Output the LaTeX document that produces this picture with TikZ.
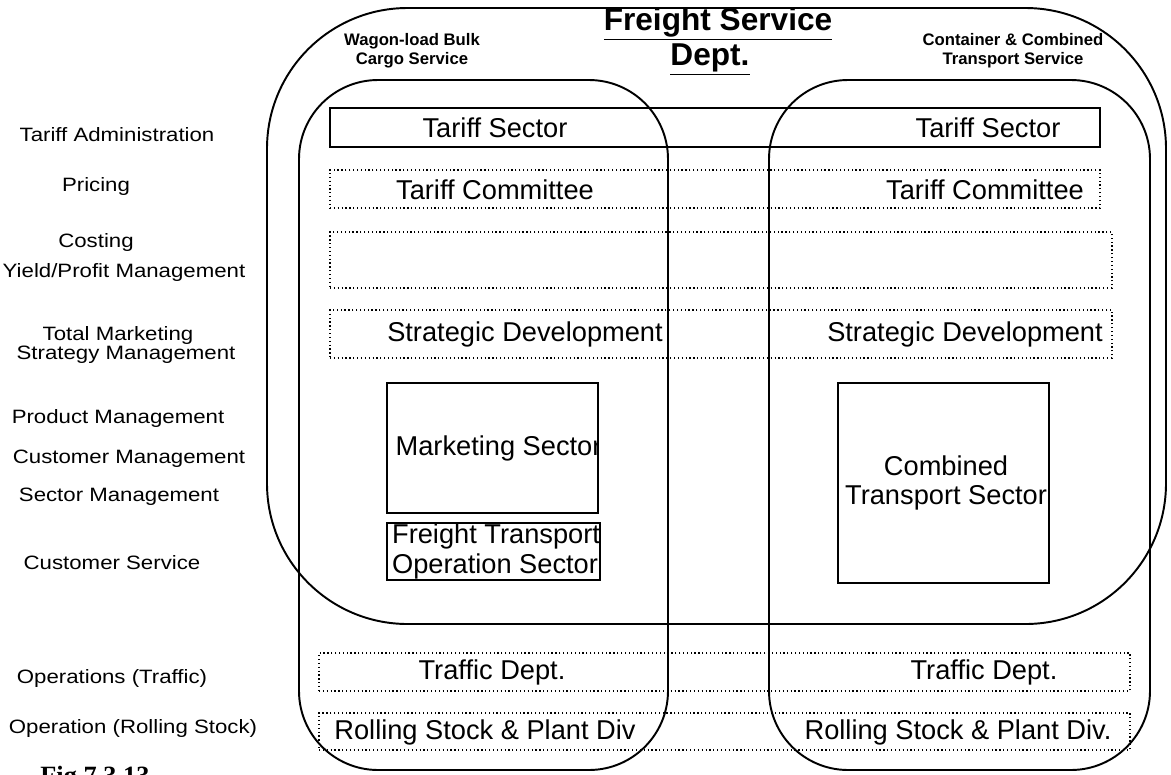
\documentclass[tikz,border=0pt]{standalone}
\usepackage{fontspec}
\setmainfont{Liberation Sans}
\newfontfamily\widefont[FakeStretch=1.15]{Liberation Sans}
\newfontfamily\figfont{Liberation Serif}
\usetikzlibrary{positioning}

\begin{document}
\begin{tikzpicture}[x=0.02cm, y=-0.02cm,
  region/.style={draw, line width=1.1pt, rounded corners=#1, inner sep=0pt},
  sbox/.style={draw, line width=0.9pt, inner sep=0pt},
  dbox/.style={draw, line width=0.7pt, dash pattern=on 0.7pt off 1.5pt, inner sep=0pt},
  boxtxt/.style={font=\fontsize{15.5}{17}\selectfont, inner sep=0pt, align=center},
  lbl/.style={font=\widefont\fontsize{11}{12}\selectfont, inner sep=0pt},
  svc/.style={font=\bfseries\fontsize{9.5}{11}\selectfont, align=center, inner sep=0pt},
  ttl/.style={font=\bfseries\fontsize{18}{20}\selectfont, inner sep=0pt, anchor=base}]
  \def\pxu{0.02cm}   % one pixel of the page
  \useasboundingbox (0,0) rectangle (1171,775);

  % the three service regions
  \node (fsdept) [region=80pt, minimum width=899*\pxu, minimum height=616*\pxu] at (716.5,316) {};
  \node (wagon)  [region=45pt, minimum width=369*\pxu, minimum height=690*\pxu] at (483.5,425) {};
  \node (combi)  [region=45pt, minimum width=381*\pxu, minimum height=690*\pxu] at (959.5,425) {};

  % titles
  \node (fstitle) [ttl] at (718,30) {\underline{Freight Service}};
  \node (dpt) [ttl] at (710,65) {\underline{Dept.}};
  \node (wtitle) [svc] at (412,51) {Wagon-load Bulk\\Cargo Service};
  \node (ctitle) [svc] at (1013,51) {Container \& Combined\\Transport Service};

  % rows across both services
  \node (tsec)  [sbox, minimum width=770*\pxu, minimum height=39*\pxu] at (715,127.5) {};
  \node (tcom)  [dbox, minimum width=770*\pxu, minimum height=38*\pxu] at (715,189) {};
  \node (cost)  [dbox, minimum width=782*\pxu, minimum height=56*\pxu] at (721,260) {};
  \node (strat) [dbox, minimum width=782*\pxu, minimum height=48*\pxu] at (721,334) {};
  \node (traf)  [dbox, minimum width=811*\pxu, minimum height=38*\pxu] at (724.5,672) {};
  \node (roll)  [dbox, minimum width=811*\pxu, minimum height=37*\pxu] at (724.5,731.5) {};

  \foreach \x/\y/\t [count=\k] in {495/128/Tariff Sector, 988/128/Tariff Sector,
      495/190/Tariff Committee, 985/190/Tariff Committee,
      525/334/Strategic Development, 965/334/Strategic Development,
      492/672/Traffic Dept., 984/672/Traffic Dept.,
      485/732/Rolling Stock \& Plant Div, 958/732/Rolling Stock \& Plant Div.}
    { \node (rowtxt\k) [boxtxt] at (\x,\y) {\t}; }

  % sector boxes (text runs into the right edge)
  \node (mkt) [sbox, minimum width=211*\pxu, minimum height=130*\pxu,
    path picture={\node[boxtxt, anchor=west] at ([xshift=3pt]path picture bounding box.west) {Marketing Sector};}]
    at (492.5,448) {};
  \node (fto) [sbox, minimum width=213*\pxu, minimum height=57*\pxu,
    path picture={\node[boxtxt, anchor=west, align=left] at ([xshift=1pt]path picture bounding box.west) {Freight Transport\\ Operation Sector};}]
    at (493.5,551.5) {};
  \node (cts) [sbox, minimum width=211*\pxu, minimum height=200*\pxu,
    path picture={\node[boxtxt, anchor=west, align=center] at ([xshift=1pt]path picture bounding box.west) {Combined\\Transport Sector};}]
    at (943.5,483) {};

  % functions on the left
  \foreach \x/\y/\t [count=\k] in {117/135/Tariff Administration, 96/186/Pricing,
      96/242/Costing, 124/272/{Yield/Profit Management},
      118/335/Total Marketing, 126/355/Strategy Management,
      118/418/Product Management, 129/459/Customer Management,
      119/497/Sector Management, 112/563/Customer Service,
      112/678/Operations (Traffic), 133/728/Operation (Rolling Stock)}
    { \node (fn\k) [lbl] at (\x,\y) {\t}; }

  \node (fig) [font=\figfont\bfseries\fontsize{15}{16}\selectfont, anchor=north west, inner sep=0pt] at (40,766) {Fig.7.3.13};
\end{tikzpicture}
\end{document}
